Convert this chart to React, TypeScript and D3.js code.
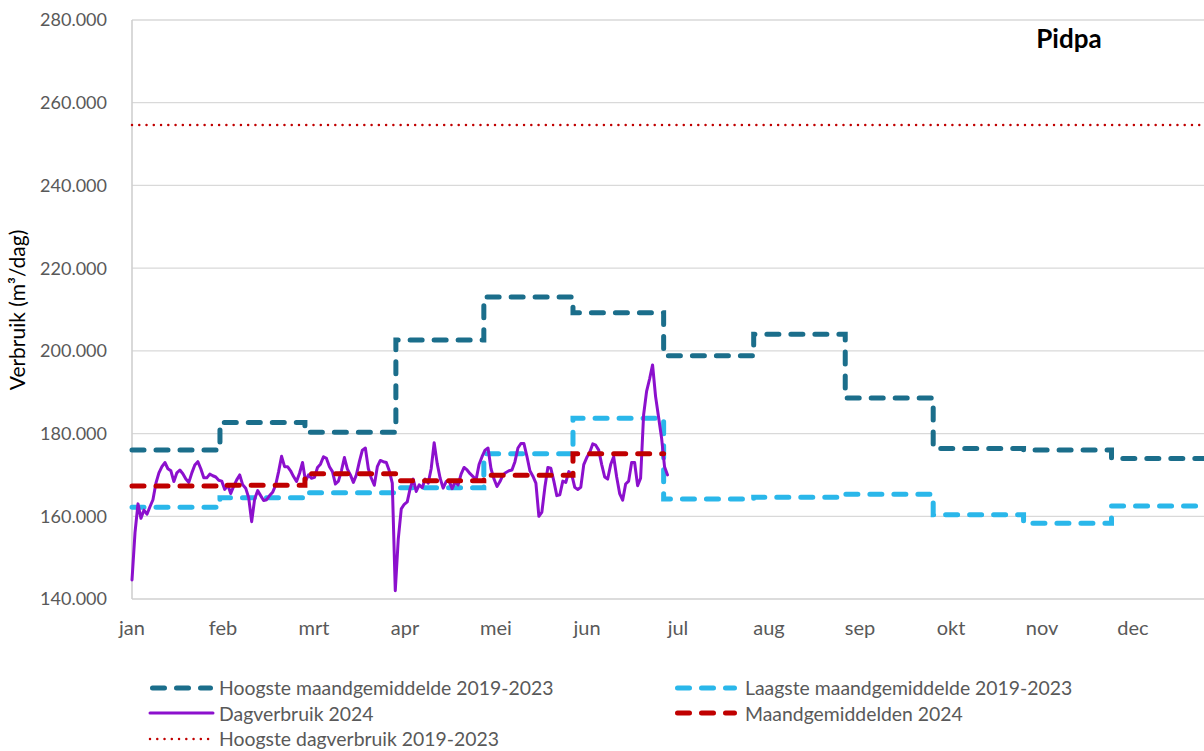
import React from "react";
import * as d3 from "d3";

// ---------- data (values in thousand m³/dag) ----------
const months = ["jan", "feb", "mrt", "apr", "mei", "jun", "jul", "aug", "sep", "okt", "nov", "dec"];
const yTicks = [140, 160, 180, 200, 220, 240, 260, 280];

// day-of-year at which each monthly step of the historical series starts (as plotted)
const stepStartDay = [0, 29.4, 57.8, 88.2, 117.6, 147.4, 177.7, 207.8, 238.4, 267.8, 298, 327.4];
const stepEndDay = 370;

const hoogsteMaand = [176.0, 182.7, 180.3, 202.6, 213.0, 209.2, 198.8, 204.0, 188.6, 176.4, 176.0, 174.0];
const laagsteMaand = [162.2, 164.5, 165.7, 166.9, 175.1, 183.7, 164.2, 164.6, 165.3, 160.4, 158.3, 162.5];
const maandGem2024 = [167.3, 167.5, 170.3, 168.6, 169.9, 175.1];
const hoogsteDag = 254.6;

const dag2024 = [
  144.6, 156, 163, 159.5, 161.5, 160.5, 162.3, 164, 168, 170.5,
  172, 173, 171.5, 171, 168.4, 170.5, 171.2, 170.3, 169, 168.2,
  170.5, 172.4, 173.2, 171.5, 169.3, 169.3, 170.2, 169.8, 169.5, 168.7,
  168.5, 166.5, 167.6, 165.5, 167.3, 168.8, 170, 167.6, 166.8, 164.5,
  158.7, 164.2, 166.2, 165, 163.8, 164, 165, 165.8, 167.5, 170.8,
  174.5, 172, 172, 171, 169.6, 168.4, 170.4, 173, 168.5, 170,
  169.2, 169.4, 171.8, 172.6, 174.4, 174, 172, 170.8, 167.8, 168.5,
  171, 174.2, 171.4, 170, 168.2, 170, 173.2, 176, 176.5, 171.5,
  169.2, 167.5, 172, 173.5, 173.2, 173, 171, 168, 142, 154.5,
  161.8, 162.9, 163.5, 166.8, 169, 166, 167.6, 166.9, 169, 168,
  171.5, 177.8, 172.8, 169.2, 166.8, 168.4, 168.5, 166.7, 168.3, 167.6,
  170.2, 171.8, 171.2, 170.3, 169.6, 168.8, 172.5, 174.4, 176, 176.5,
  171.5, 169, 167.2, 168.4, 170, 170.6, 171, 171.2, 173.2, 176.5,
  177.6, 177.6, 174.5, 171, 169.7, 168, 160, 161, 167, 171.8,
  171.6, 168.5, 165, 165.2, 168.5, 168.2, 170.8, 170, 167, 166.5,
  167, 172.5, 174.2, 175.5, 177.5, 177.2, 176, 172.5, 169.5, 169,
  172.5, 174.4, 169.5, 165.5, 163.9, 167.8, 168.5, 173, 173, 167.4,
  169.2, 184.5, 190.2, 193.2, 196.6, 189, 184, 179, 172, 170,
];

const legendItems = [
  { label: "Hoogste maandgemiddelde 2019-2023", col: 0, row: 0, kind: "dark" },
  { label: "Laagste maandgemiddelde 2019-2023", col: 1, row: 0, kind: "light" },
  { label: "Dagverbruik 2024", col: 0, row: 1, kind: "purple" },
  { label: "Maandgemiddelden 2024", col: 1, row: 1, kind: "red" },
  { label: "Hoogste dagverbruik 2019-2023", col: 0, row: 2, kind: "dotted" },
];

// ---------- styles ----------
const C = {
  dark: "#1B6E8B",
  light: "#2AB7EA",
  purple: "#8C10CD",
  red: "#C00000",
  grid: "#D9D9D9",
  axis: "#D0D0D0",
  text: "#595959",
};
const FONT = "Lato, 'Noto Sans', sans-serif";

const styleFor: Record<string, any> = {
  dark: { stroke: C.dark, strokeWidth: 5, strokeDasharray: "12 12", strokeLinecap: "round" },
  light: { stroke: C.light, strokeWidth: 5, strokeDasharray: "12 12", strokeLinecap: "round" },
  red: { stroke: C.red, strokeWidth: 5, strokeDasharray: "12 12", strokeLinecap: "round" },
  purple: { stroke: C.purple, strokeWidth: 3, strokeLinejoin: "round", strokeLinecap: "round" },
  dotted: { stroke: C.red, strokeWidth: 2.5, strokeDasharray: "0.01 7.25", strokeLinecap: "round" },
};

const W = 1204;
const H = 751;
const left = 132;
const top = 20;
const bottom = 599;
const rightEnd = 1224; // end of year on the x axis (beyond visible area)

const nl = d3.formatLocale({ decimal: ",", thousands: ".", grouping: [3], currency: ["€", ""] });
const fmt = nl.format(",d");

export default function App() {
  const xDay = d3.scaleLinear().domain([0, 365]).range([left, rightEnd]);
  const xMonth = d3.scaleLinear().domain([0, 12]).range([left, rightEnd]);
  const y = d3.scaleLinear().domain([140, 280]).range([bottom, top]);

  const line = d3
    .line<[number, number]>()
    .x((d) => xDay(d[0]))
    .y((d) => y(d[1]));

  const stepPoints = (vals: number[]): [number, number][] => {
    const pts: [number, number][] = [];
    vals.forEach((v, i) => {
      const start = stepStartDay[i];
      const end = i + 1 < stepStartDay.length ? stepStartDay[i + 1] : stepEndDay;
      pts.push([start, v]);
      pts.push([end, v]);
    });
    return pts;
  };

  const dailyPoints: [number, number][] = dag2024.map((v, i) => [i, v]);

  const legendX = [150, 675];
  const legendLineLen = [63, 62];
  const legendTextX = [219, 745];
  const legendLineY = [688, 713, 739];
  const legendTextY = [695, 720.5, 746];

  return (
    <svg
      width={W}
      height={H}
      style={{ position: "absolute", left: 0, top: 0, background: "#fff" }}
      fontFamily={FONT}
    >
      <defs>
        <clipPath id="plotclip">
          <rect x={left - 10} y={0} width={W - left + 10} height={bottom + 10} />
        </clipPath>
      </defs>
      {/* gridlines */}
      {yTicks.map((t) => (
        <line key={t} x1={left} x2={W} y1={y(t)} y2={y(t)} stroke={t === 140 ? C.axis : C.grid} strokeWidth={t === 140 ? 1.6 : 1.3} />
      ))}
      {/* y axis line */}
      <line x1={left} x2={left} y1={top} y2={bottom} stroke={C.axis} strokeWidth={1.6} />

      {/* y tick labels */}
      {yTicks.map((t) => (
        <text key={t} x={107} y={y(t)} dy="0.36em" textAnchor="end" fontSize={18} fill={C.text}>
          {fmt(t * 1000)}
        </text>
      ))}

      {/* x month labels */}
      {months.map((m, i) => (
        <text key={m} x={xMonth(i)} y={635} textAnchor="middle" fontSize={20} fill={C.text}>
          {m}
        </text>
      ))}

      {/* y axis title */}
      <text transform="translate(25,310) rotate(-90)" textAnchor="middle" fontSize={21} fill="#000">
        Verbruik (m³/dag)
      </text>

      {/* title */}
      <text x={1069} y={48} textAnchor="middle" fontSize={26} fontWeight="bold" fill="#000">
        Pidpa
      </text>

      <g clipPath="url(#plotclip)" fill="none">
        <path d={line(stepPoints(hoogsteMaand)) || ""} {...styleFor.dark} />
        <path d={line(stepPoints(laagsteMaand)) || ""} {...styleFor.light} />
        <path d={line(dailyPoints) || ""} {...styleFor.purple} />
        <path d={line(stepPoints(maandGem2024)) || ""} {...styleFor.red} />
        <path d={line([[0, hoogsteDag], [370, hoogsteDag]]) || ""} {...styleFor.dotted} />
      </g>

      {/* legend */}
      {legendItems.map((it) => {
        const x0 = legendX[it.col];
        const ly = legendLineY[it.row];
        const st = styleFor[it.kind];
        const pad = it.kind === "purple" || it.kind === "dotted" ? 0 : 2.5;
        return (
          <g key={it.label}>
            <line x1={x0 + pad} x2={x0 + legendLineLen[it.col] - pad} y1={ly} y2={ly} {...st} />
            <text x={legendTextX[it.col]} y={legendTextY[it.row]} fontSize={19.4} fill={C.text}>
              {it.label}
            </text>
          </g>
        );
      })}
    </svg>
  );
}
